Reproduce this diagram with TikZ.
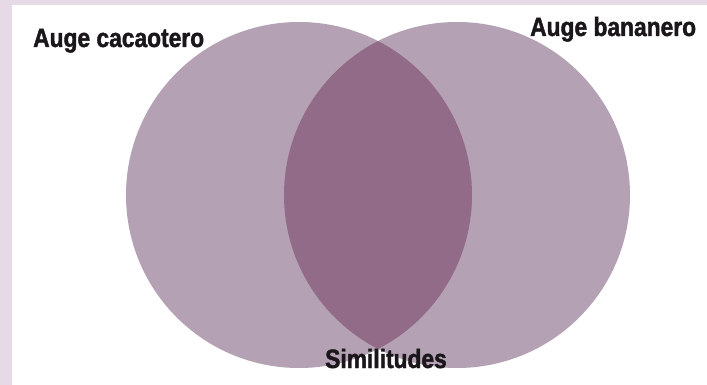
\documentclass[tikz,border=0pt]{standalone}
\usepackage{fontspec}
\setmainfont{Liberation Sans}[FakeStretch=0.86, BoldFeatures={FakeBold=1.6}]
\usepackage{xcolor}
\usepackage{tikz}
\usetikzlibrary{positioning}
\definecolor{framelilac}{RGB}{230,218,230}
\definecolor{setmauve}{RGB}{180,162,180}
\definecolor{lensmauve}{RGB}{145,107,135}
\definecolor{labelink}{RGB}{26,22,26}

\begin{document}
\begin{tikzpicture}[x=1pt, y=-1pt,
    setcircle/.style={circle, fill=setmauve, minimum size=346pt, inner sep=0pt},
    setlabel/.style={anchor=base west, inner sep=0pt, text=labelink,
                     font=\fontsize{26.5}{30}\selectfont\bfseries}
]
\useasboundingbox (0,0) rectangle (707,385);
\fill[framelilac] (0,0) rectangle (707,385);
\fill[white] (12,5) rectangle (707,385);
% the two sets
\node[setcircle] (cacao) at (299,195) {};
\node[setcircle] (banana) at (457,195) {};
% overlap
\begin{scope}
  \clip (cacao.center) circle[radius=173pt];
  \fill[lensmauve] (banana.center) circle[radius=173pt];
\end{scope}
\node[setlabel] (cacaolbl) at (33,47) {Auge cacaotero};
\node[setlabel] (bananalbl) at (530,36) {Auge bananero};
\node[setlabel] (simil) at (325,368) {Similitudes};
\end{tikzpicture}
\end{document}
